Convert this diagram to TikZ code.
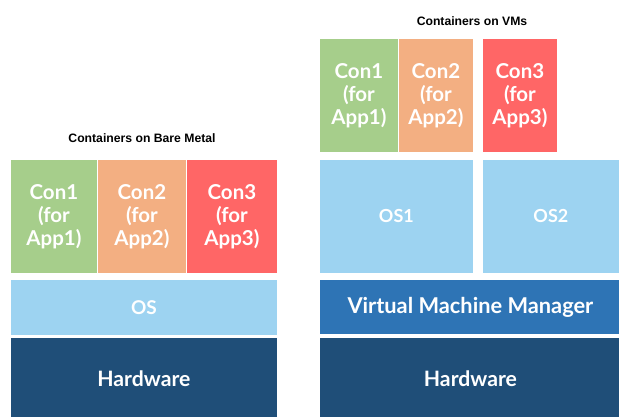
\documentclass[tikz,border=0pt]{standalone}
\usepackage{fontspec}
\setmainfont{Lato}
\newfontfamily\titlefont{Liberation Sans}
\definecolor{cgreen}{HTML}{A6CE8B}
\definecolor{corange}{HTML}{F3AF82}
\definecolor{cred}{HTML}{FF6666}
\definecolor{clight}{HTML}{9DD3F1}
\definecolor{cmid}{HTML}{2E74B5}
\definecolor{cdark}{HTML}{1F4E78}
\begin{document}
\begin{tikzpicture}[x=1pt,y=-1pt,
  blk/.style={draw=white, line width=0.8pt, inner sep=0pt, anchor=north west,
    text=white, align=center, font=\bfseries\fontsize{20.5}{23}\selectfont},
  ttl/.style={font=\titlefont\bfseries\fontsize{12.2}{14}\selectfont, text=black, inner sep=0pt}]
\useasboundingbox[fill=white] (0,0) rectangle (619,417);
% left
\node[ttl] (t1) at (142,138) {Containers on Bare Metal};
\node[blk, fill=cgreen, minimum width=87pt, minimum height=114pt] (c1) at (10,159) {Con1\\(for\\App1)};
\node[blk, fill=corange, minimum width=89pt, minimum height=114pt] (c2) at (97,159) {Con2\\(for\\App2)};
\node[blk, fill=cred, minimum width=91pt, minimum height=114pt] (c3) at (186,159) {Con3\\(for\\App3)};
\node[blk, fill=clight, minimum width=267pt, minimum height=56pt, font=\bfseries\fontsize{19}{20}\selectfont] (os) at (10,279) {OS};
\node[blk, fill=cdark, minimum width=267pt, minimum height=82pt, font=\bfseries\fontsize{21.2}{23}\selectfont] (hw) at (10,337) {Hardware};
% right
\node[ttl] (t2) at (472,21) {Containers on VMs};
\node[blk, fill=cgreen, minimum width=79pt, minimum height=114pt] (rc1) at (319,38) {Con1\\(for\\App1)};
\node[blk, fill=corange, minimum width=75pt, minimum height=114pt] (rc2) at (398,38) {Con2\\(for\\App2)};
\node[blk, fill=cred, minimum width=75pt, minimum height=114pt] (rc3) at (482,38) {Con3\\(for\\App3)};
\node[blk, fill=clight, minimum width=154pt, minimum height=114pt, font=\bfseries\fontsize{18}{20}\selectfont] (os1) at (319,159) {OS1};
\node[blk, fill=clight, minimum width=140pt, minimum height=114pt, font=\bfseries\fontsize{18}{20}\selectfont] (os2) at (482,159) {\hspace*{-3pt}OS2};
\node[blk, fill=cmid, minimum width=302pt, minimum height=55pt, font=\bfseries\fontsize{21.8}{23}\selectfont] (vmm) at (319,279) {Virtual Machine Manager};
\node[blk, fill=cdark, minimum width=302pt, minimum height=82pt, font=\bfseries\fontsize{21.2}{23}\selectfont] (rhw) at (319,337) {Hardware};
\end{tikzpicture}
\end{document}
